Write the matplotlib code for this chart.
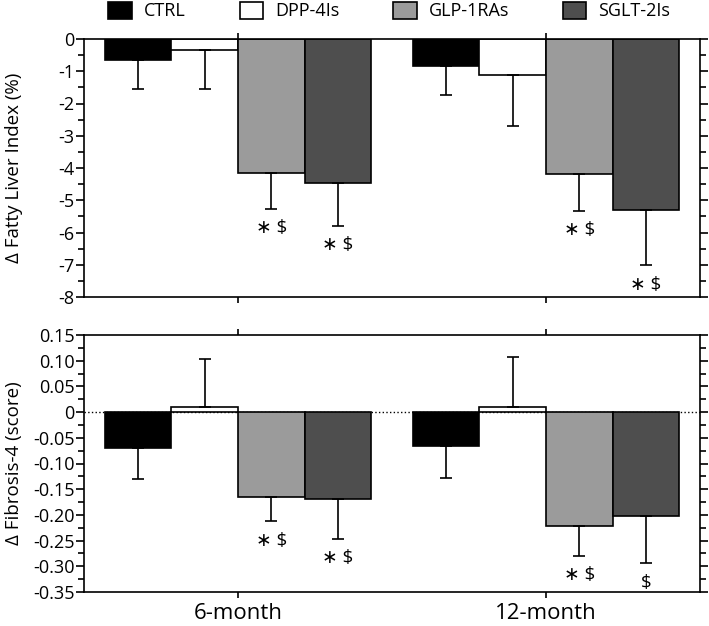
import matplotlib
matplotlib.use("Agg")
import matplotlib.pyplot as plt
import numpy as np
from matplotlib.patches import Patch
from matplotlib.ticker import MultipleLocator, FixedLocator, FixedFormatter

plt.rcParams['font.family'] = ['Open Sans', 'DejaVu Sans']
plt.rcParams['axes.unicode_minus'] = False

# ---- data ----
groups = ["CTRL", "DPP-4Is", "GLP-1RAs", "SGLT-2Is"]
periods = ["6-month", "12-month"]
colors = ["#000000", "#ffffff", "#9b9b9b", "#4e4e4e"]

# Fatty Liver Index change (%): rows = group, cols = period
fli_mean = {
    "CTRL":     [-0.64, -0.85],
    "DPP-4Is":  [-0.33, -1.12],
    "GLP-1RAs": [-4.16, -4.20],
    "SGLT-2Is": [-4.47, -5.30],
}
fli_err = {
    "CTRL":     [0.92, 0.89],
    "DPP-4Is":  [1.22, 1.59],
    "GLP-1RAs": [1.11, 1.12],
    "SGLT-2Is": [1.32, 1.72],
}
fli_sig = {
    "CTRL":     ["", ""],
    "DPP-4Is":  ["", ""],
    "GLP-1RAs": ["∗ $", "∗ $"],
    "SGLT-2Is": ["∗ $", "∗ $"],
}

# Fibrosis-4 change (score)
fib_mean = {
    "CTRL":     [-0.070, -0.065],
    "DPP-4Is":  [0.010, 0.009],
    "GLP-1RAs": [-0.166, -0.221],
    "SGLT-2Is": [-0.169, -0.203],
}
fib_err = {
    "CTRL":     [0.061, 0.063],
    "DPP-4Is":  [0.094, 0.098],
    "GLP-1RAs": [0.046, 0.059],
    "SGLT-2Is": [0.077, 0.091],
}
fib_sig = {
    "CTRL":     ["", ""],
    "DPP-4Is":  ["", ""],
    "GLP-1RAs": ["∗ $", "∗ $"],
    "SGLT-2Is": ["∗ $", "$"],
}

fli_ticks = [0, -1, -2, -3, -4, -5, -6, -7, -8]
fli_ticklabels = ["0", "-1", "-2", "-3", "-4", "-5", "-6", "-7", "-8"]
fib_ticks = [0.15, 0.10, 0.05, 0, -0.05, -0.10, -0.15, -0.20, -0.25, -0.30, -0.35]
fib_ticklabels = ["0.15", "0.10", "0.05", "0", "-0.05", "-0.10", "-0.15",
                  "-0.20", "-0.25", "-0.30", "-0.35"]

# ---- figure ----
fig = plt.figure(figsize=(7.09, 6.26), dpi=100)
W, H = 709, 626
ax1 = fig.add_axes([84 / W, 1 - 297 / H, 616 / W, 258 / H])
ax2 = fig.add_axes([84 / W, 1 - 592 / H, 616 / W, 257 / H])

x = np.arange(len(periods))
bw = 0.2167
offsets = (np.arange(len(groups)) - 1.5) * bw
lw = 1.2


def draw(ax, means, errs, sigs):
    for g, c, off in zip(groups, colors, offsets):
        m = np.array(means[g])
        e = np.array(errs[g])
        ax.bar(x + off, m, width=bw, color=c, edgecolor="black",
               linewidth=lw, zorder=2)
        lower = np.where(m < 0, e, 0)
        upper = np.where(m >= 0, e, 0)
        ax.errorbar(x + off, m, yerr=[lower, upper], fmt="none",
                    ecolor="black", elinewidth=lw, capsize=4.5,
                    capthick=lw, zorder=3)
        for xi, mi, ei, s in zip(x + off, m, e, sigs[g]):
            if s:
                yend = mi - ei if mi < 0 else mi + ei
                ax.annotate(s, (xi, yend), xytext=(0, -14),
                            textcoords="offset points", ha="center",
                            va="center", fontsize=13.5)


def style(ax):
    ax.set_xlim(-0.5, 1.5)
    for sp in ax.spines.values():
        sp.set_linewidth(lw)
    ax.tick_params(axis="both", which="both", direction="out", width=lw,
                   labelsize=13, colors="black")
    ax.tick_params(axis="y", which="major", length=6, right=True,
                   labelright=False, pad=1)
    ax.tick_params(axis="y", which="minor", length=4, right=True)
    ax.tick_params(axis="x", which="major", length=4, top=True,
                   labeltop=False)
    ax.tick_params(axis="x", which="minor", length=0)


draw(ax1, fli_mean, fli_err, fli_sig)
style(ax1)
ax1.set_ylim(-8, 0)
ax1.yaxis.set_major_locator(FixedLocator(fli_ticks))
ax1.yaxis.set_major_formatter(FixedFormatter(fli_ticklabels))
ax1.yaxis.set_minor_locator(MultipleLocator(0.5))
ax1.set_xticks(x)
ax1.set_xticklabels([])
ax1.set_ylabel("Δ Fatty Liver Index (%)", fontsize=13.5)

ax2.axhline(0, color="black", linestyle=":", linewidth=1.0, zorder=1)
draw(ax2, fib_mean, fib_err, fib_sig)
style(ax2)
ax2.set_ylim(-0.35, 0.15)
ax2.yaxis.set_major_locator(FixedLocator(fib_ticks))
ax2.yaxis.set_major_formatter(FixedFormatter(fib_ticklabels))
ax2.yaxis.set_minor_locator(MultipleLocator(0.025))
ax2.set_xticks(x)
ax2.set_xticklabels(periods, fontsize=16)
ax2.tick_params(axis="x", pad=4)
ax2.set_ylabel("Δ Fibrosis-4 (score)", fontsize=13.5)
ax1.yaxis.set_label_coords(-0.099, 0.5)
ax2.yaxis.set_label_coords(-0.099, 0.5)

handles = [Patch(facecolor=c, edgecolor="black", linewidth=lw) for c in colors]
fig.legend(handles, groups, loc="upper center", bbox_to_anchor=(0.549, 1.0),
           ncol=4, frameon=False, fontsize=13, handlelength=1.3,
           handleheight=1.05, handletextpad=0.65, columnspacing=3.0,
           borderpad=0.1, borderaxespad=0)

fig.savefig("out.png", dpi=100)
